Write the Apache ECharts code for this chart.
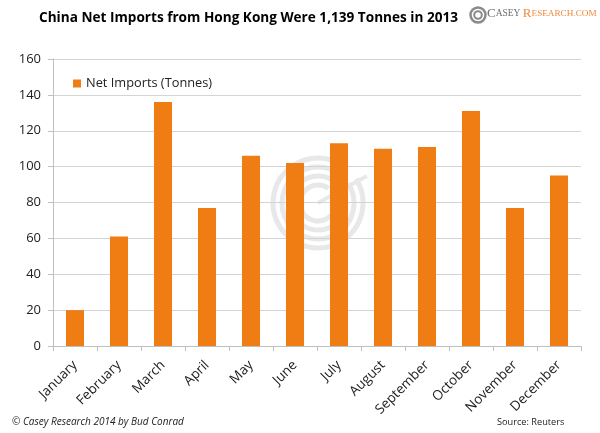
<!DOCTYPE html>
<html><head><meta charset="utf-8">
<script src="https://cdn.jsdelivr.net/npm/echarts@6/dist/echarts.min.js"></script>
<style>html,body{margin:0;padding:0;background:#fff}#c{width:600px;height:433px}</style>
</head><body><div id="c"></div>
<script>
const categories = ['January','February','March','April','May','June','July','August','September','October','November','December'];
const netImports = [20, 61, 136, 77, 106, 102, 113, 110, 111, 131, 77, 95];
const yTicks = [0, 20, 40, 60, 80, 100, 120, 140, 160];

const chart = echarts.init(document.getElementById('c'));
const font = 'Open Sans';
const wm = [];
[45, 36, 27, 18].forEach((r) => {
  wm.push({
    type: 'arc', z: -10, silent: true,
    shape: { cx: 318, cy: 203, r: r, startAngle: -Math.PI * 0.18, endAngle: Math.PI * 1.70, clockwise: true },
    style: { stroke: '#e8e8e8', lineWidth: 5, fill: null }
  });
});
wm.push({ type: 'line', z: -10, silent: true, shape: { x1: 318, y1: 203, x2: 367, y2: 176 }, style: { stroke: '#e8e8e8', lineWidth: 4 } });

chart.setOption({
  animation: false,
  backgroundColor: '#fff',
  title: {
    text: 'China Net Imports from Hong Kong Were 1,139 Tonnes in 2013',
    left: 34, top: 6,
    textStyle: { fontFamily: font, fontWeight: 'bold', fontSize: 13.6, color: '#000' }
  },
  legend: {
    left: 68, top: 72, itemWidth: 8, itemHeight: 8, itemGap: 5,
    icon: 'rect',
    textStyle: { fontFamily: font, fontSize: 12.8, color: '#222' },
    data: ['Net Imports (Tonnes)']
  },
  grid: { left: 53, right: 19, top: 59, bottom: 87, containLabel: false },
  xAxis: {
    type: 'category', data: categories,
    axisLine: { lineStyle: { color: '#bfbfbf' } },
    axisTick: { show: true, alignWithLabel: false, lineStyle: { color: '#bfbfbf' }, length: 5 },
    axisLabel: { rotate: 45, interval: 0, fontFamily: font, fontSize: 13.5, color: '#222', margin: 17 }
  },
  yAxis: {
    type: 'value', min: yTicks[0], max: yTicks[yTicks.length - 1], interval: 20,
    axisLine: { show: true, lineStyle: { color: '#bfbfbf' } },
    axisTick: { show: true, length: 5, lineStyle: { color: '#bfbfbf' } },
    splitLine: { lineStyle: { color: '#d4d4d4', width: 1 } },
    axisLabel: { fontFamily: font, fontSize: 13, color: '#222', margin: 12 }
  },
  series: [{
    name: 'Net Imports (Tonnes)', type: 'bar', data: netImports,
    barWidth: '41%',
    itemStyle: { color: '#f07c14' }
  }],
  graphic: wm.concat([
    { type: 'circle', shape: { cx: 478, cy: 15, r: 7.5 }, style: { fill: null, stroke: '#8a8a8a', lineWidth: 2.5 } },
    { type: 'circle', shape: { cx: 478, cy: 15, r: 3.8 }, style: { fill: null, stroke: '#8a8a8a', lineWidth: 2 } },
    { type: 'text', left: 487, top: 7, style: {
      text: '{a|C}{b|ASEY }{c|R}{d|ESEARCH.COM}',
      rich: {
        a: { fill: '#6e6e6e', font: '13px "Liberation Serif"' },
        b: { fill: '#6e6e6e', font: '9.5px "Liberation Serif"' },
        c: { fill: '#f08a3c', font: '13px "Liberation Serif"' },
        d: { fill: '#f08a3c', font: '9.2px "Liberation Serif"' }
      } } },
    { type: 'text', left: 12, top: 417, style: { text: '© Casey Research 2014 by Bud Conrad', fill: '#222', font: 'italic 10px "Open Sans"' } },
    { type: 'text', left: 497, top: 418, style: { text: 'Source: Reuters', fill: '#222', font: '9.2px "Open Sans"' } }
  ])
});
</script></body></html>
